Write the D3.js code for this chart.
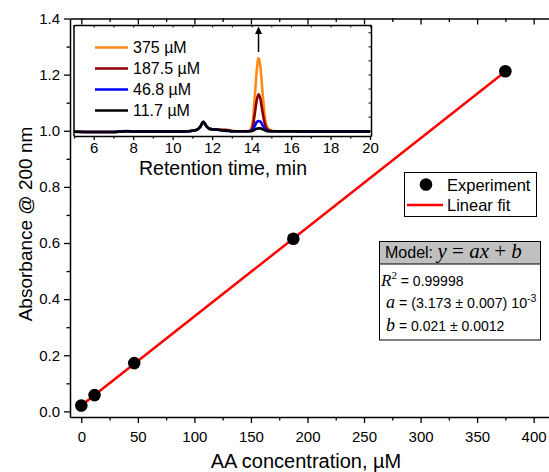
<!DOCTYPE html>
<html>
<head>
<meta charset="utf-8">
<script src="https://cdn.jsdelivr.net/npm/d3@7"></script>
<style>
  body { margin: 0; background: #fff; }
  svg { display: block; }
  text { font-family: "Liberation Sans", Arial, Helvetica, sans-serif; fill: #000; }
  .serif { font-family: "Liberation Serif", "Times New Roman", serif; font-style: italic; }
</style>
</head>
<body>
<script>
// Calibration: AA concentration (µM) vs absorbance at 200 nm
const concentration = [0, 11.7, 46.8, 187.5, 375];
const absorbance    = [0.021, 0.058, 0.172, 0.615, 1.212];
const fitSlope = 3.173e-3;
const fitIntercept = 0.021;

const xMajorTicks = [0, 50, 100, 150, 200, 250, 300, 350, 400];
const xMinorTicks = [25, 75, 125, 175, 225, 275, 325, 375];
const yMajorTicks = [0, 0.2, 0.4, 0.6, 0.8, 1.0, 1.2, 1.4];
const yMinorTicks = [0.1, 0.3, 0.5, 0.7, 0.9, 1.1, 1.3];

// Inset chromatograms (retention time, min)
const retentionTime = [5.0, 6.0, 7.0, 7.4, 7.7, 8.0, 9.0, 10.0, 10.8, 11.2, 11.4, 11.55, 11.7, 11.85, 12.0, 12.3, 12.6, 12.8, 13.0, 13.5, 13.9, 14.05, 14.15, 14.25, 14.35, 14.45, 14.55, 14.65, 14.75, 14.9, 15.1, 15.5, 16.0, 17.0, 18.0, 19.0, 20.0];
const trace375  = [0.996, 0.995, 0.995, 0.997, 0.998, 0.997, 0.997, 0.997, 0.998, 1.002, 1.014, 1.030, 1.017, 1.007, 1.005, 1.004, 1.004, 1.003, 0.999, 0.998, 0.999, 1.030, 1.110, 1.205, 1.258, 1.225, 1.140, 1.060, 1.020, 1.003, 0.999, 0.998, 0.998, 0.997, 0.997, 0.997, 0.997];
const trace1875 = [0.996, 0.995, 0.995, 0.997, 0.998, 0.997, 0.997, 0.997, 0.998, 1.002, 1.014, 1.030, 1.017, 1.007, 1.005, 1.003, 1.002, 1.001, 0.999, 0.998, 0.999, 1.012, 1.055, 1.105, 1.129, 1.112, 1.068, 1.030, 1.010, 1.001, 0.998, 0.998, 0.998, 0.997, 0.997, 0.997, 0.997];
const trace468  = [0.996, 0.995, 0.995, 0.998, 0.999, 0.997, 0.997, 0.997, 0.998, 1.002, 1.014, 1.031, 1.017, 1.007, 1.005, 1.003, 1.001, 1.000, 0.998, 0.998, 0.998, 1.003, 1.015, 1.030, 1.034, 1.032, 1.020, 1.008, 1.002, 0.998, 0.998, 0.998, 0.998, 0.997, 0.997, 0.997, 0.997];
const trace117  = [0.996, 0.995, 0.995, 0.997, 0.998, 0.997, 0.997, 0.997, 0.998, 1.002, 1.014, 1.032, 1.017, 1.007, 1.005, 1.003, 1.000, 0.999, 0.998, 0.998, 0.998, 0.999, 1.003, 1.007, 1.008, 1.008, 1.005, 1.002, 0.999, 0.998, 0.998, 0.998, 0.998, 0.997, 0.997, 0.997, 0.997];

const seriesLabels = ["375 \u00B5M", "187.5 \u00B5M", "46.8 \u00B5M", "11.7 \u00B5M"];
const seriesColors = ["#ff8a14", "#8b0000", "#0000ff", "#000000"];
const seriesValues = [trace375, trace1875, trace468, trace117];

const insetXMajor = [6, 8, 10, 12, 14, 16, 18, 20];
const insetXMinor = [5, 7, 9, 11, 13, 15, 17, 19];
const insetYTicks = [1.0, 1.05, 1.1, 1.15, 1.2, 1.25, 1.3, 1.35];

const W = 549, H = 472;
const svg = d3.select("body").append("svg").attr("width", W).attr("height", H);

// Main plot frame
const frame = { left: 70, right: 550.6, top: 18.5, bottom: 417 };
const x = d3.scaleLinear().domain([-10, 415]).range([frame.left, frame.right]);
const y = d3.scaleLinear().domain([-0.02, 1.4]).range([frame.bottom, frame.top]);

function styleAxis(g, fontSize) {
  g.select(".domain").attr("stroke", "#000").attr("stroke-width", 1.5);
  g.selectAll(".tick line").attr("stroke", "#000").attr("stroke-width", 1.3);
  g.selectAll(".tick text").attr("font-size", fontSize).attr("font-family", "Liberation Sans, Arial, sans-serif").attr("fill", "#000");
}

// bottom axis
const gB = svg.append("g").attr("transform", `translate(0,${frame.bottom})`)
  .call(d3.axisBottom(x).tickValues(xMajorTicks).tickSize(6).tickSizeOuter(0).tickPadding(8).tickFormat(d3.format("d")));
styleAxis(gB, 15);
const gBm = svg.append("g").attr("transform", `translate(0,${frame.bottom})`)
  .call(d3.axisBottom(x).tickValues(xMinorTicks).tickSize(3.5).tickSizeOuter(0).tickFormat(""));
styleAxis(gBm, 15);
gBm.select(".domain").remove();

// top axis (ticks inward, no labels)
const gT = svg.append("g").attr("transform", `translate(0,${frame.top})`)
  .call(d3.axisBottom(x).tickValues(xMajorTicks).tickSize(6).tickSizeOuter(0).tickFormat(""));
styleAxis(gT, 15);
const gTm = svg.append("g").attr("transform", `translate(0,${frame.top})`)
  .call(d3.axisBottom(x).tickValues(xMinorTicks).tickSize(3.5).tickSizeOuter(0).tickFormat(""));
styleAxis(gTm, 15);
gTm.select(".domain").remove();

// left axis
const gL = svg.append("g").attr("transform", `translate(${frame.left},0)`)
  .call(d3.axisLeft(y).tickValues(yMajorTicks).tickSize(6).tickSizeOuter(0).tickPadding(4).tickFormat(d3.format(".1f")));
styleAxis(gL, 15);
const gLm = svg.append("g").attr("transform", `translate(${frame.left},0)`)
  .call(d3.axisLeft(y).tickValues(yMinorTicks).tickSize(3.5).tickSizeOuter(0).tickFormat(""));
styleAxis(gLm, 15);
gLm.select(".domain").remove();

// Axis titles
svg.append("text").attr("x", 306).attr("y", 468).attr("text-anchor", "middle")
  .attr("font-size", 20).text("AA concentration, \u00B5M");
svg.append("text").attr("transform", "translate(32,224) rotate(-90)").attr("text-anchor", "middle")
  .attr("font-size", 19).text("Absorbance @ 200 nm");

// Linear fit
const fitX = d3.extent(concentration);
svg.append("line")
  .attr("x1", x(fitX[0])).attr("y1", y(fitSlope * fitX[0] + fitIntercept))
  .attr("x2", x(fitX[1])).attr("y2", y(fitSlope * fitX[1] + fitIntercept))
  .attr("stroke", "#ff0000").attr("stroke-width", 2.5);

// Experimental points
svg.append("g").selectAll("circle").data(concentration).join("circle")
  .attr("cx", d => x(d)).attr("cy", (d, i) => y(absorbance[i])).attr("r", 6.3).attr("fill", "#000");

// Legend
const lg = svg.append("g");
lg.append("rect").attr("x", 404.5).attr("y", 172.5).attr("width", 132).attr("height", 44)
  .attr("fill", "#fff").attr("stroke", "#000").attr("stroke-width", 1);
lg.append("circle").attr("cx", 426).attr("cy", 184.5).attr("r", 6.3).attr("fill", "#000");
lg.append("text").attr("x", 447).attr("y", 190.5).attr("font-size", 16.5).text("Experiment");
lg.append("line").attr("x1", 407).attr("x2", 443).attr("y1", 205).attr("y2", 205)
  .attr("stroke", "#ff0000").attr("stroke-width", 2.5);
lg.append("text").attr("x", 447).attr("y", 210.5).attr("font-size", 16.5).text("Linear fit");

// Model box
const mb = svg.append("g");
mb.append("rect").attr("x", 379.5).attr("y", 241.5).attr("width", 161).attr("height", 98.5)
  .attr("fill", "#fff").attr("stroke", "#000").attr("stroke-width", 1);
mb.append("rect").attr("x", 379.5).attr("y", 241.5).attr("width", 161).attr("height", 22.5)
  .attr("fill", "#c0c0c0").attr("stroke", "#000").attr("stroke-width", 1);
const hdr = mb.append("text").attr("x", 385).attr("y", 258);
hdr.append("tspan").attr("font-size", 16).text("Model: ");
hdr.append("tspan").attr("class", "serif").attr("font-size", 21).text("y");
hdr.append("tspan").attr("font-family", "Liberation Serif, serif").attr("font-size", 21).text(" = ");
hdr.append("tspan").attr("class", "serif").attr("font-size", 21).text("ax");
hdr.append("tspan").attr("font-family", "Liberation Serif, serif").attr("font-size", 21).text(" + ");
hdr.append("tspan").attr("class", "serif").attr("font-size", 21).text("b");

const r2 = mb.append("text").attr("x", 381).attr("y", 285.5);
r2.append("tspan").attr("class", "serif").attr("font-size", 17).text("R");
r2.append("tspan").attr("font-family", "Liberation Serif, serif").attr("font-size", 11).attr("dy", -7).text("2");
r2.append("tspan").attr("font-size", 14).attr("dy", 7).text(" = 0.99998");

const ra = mb.append("text").attr("x", 386).attr("y", 308);
ra.append("tspan").attr("class", "serif").attr("font-size", 18).text("a");
ra.append("tspan").attr("font-size", 14.2).text(" = (3.173 \u00B1 0.007) 10");
ra.append("tspan").attr("font-size", 10.5).attr("dy", -6).text("-3");

const rb = mb.append("text").attr("x", 386).attr("y", 330.5);
rb.append("tspan").attr("class", "serif").attr("font-size", 18).text("b");
rb.append("tspan").attr("font-size", 14).text(" = 0.021 \u00B1 0.0012");

// Inset: chromatograms
const ins = { left: 74, right: 371, top: 25, bottom: 136 };
const xi = d3.scaleLinear().domain([5, 20.05]).range([ins.left, ins.right]);
const yi = d3.scaleLinear().domain([0.981, 1.376]).range([ins.bottom, ins.top]);

const ig = svg.append("g");
ig.append("rect").attr("x", ins.left).attr("y", ins.top)
  .attr("width", ins.right - ins.left).attr("height", ins.bottom - ins.top)
  .attr("fill", "#fff");

const line = d3.line().x(d => xi(d[0])).y(d => yi(d[1])).curve(d3.curveMonotoneX);
seriesValues.forEach((vals, k) => {
  ig.append("path")
    .attr("d", line(retentionTime.map((t, i) => [t, vals[i]])))
    .attr("fill", "none").attr("stroke", seriesColors[k]).attr("stroke-width", 2.6)
    .attr("stroke-linejoin", "round");
});

// Arrow over the AA peak
const peakT = 14.35;
ig.append("line").attr("x1", xi(peakT)).attr("x2", xi(peakT)).attr("y1", 52).attr("y2", 33)
  .attr("stroke", "#000").attr("stroke-width", 1.5);
ig.append("path")
  .attr("d", `M${xi(peakT) - 3.5},34 L${xi(peakT)},26.5 L${xi(peakT) + 3.5},34 Z`)
  .attr("fill", "#000");

// Inset axes
const giB = ig.append("g").attr("transform", `translate(0,${ins.bottom})`)
  .call(d3.axisBottom(xi).tickValues(insetXMajor).tickSize(4).tickSizeOuter(0).tickPadding(2.5).tickFormat(d3.format("d")));
styleAxis(giB, 15);
const giBm = ig.append("g").attr("transform", `translate(0,${ins.bottom})`)
  .call(d3.axisBottom(xi).tickValues(insetXMinor).tickSize(2.5).tickSizeOuter(0).tickFormat(""));
styleAxis(giBm, 15);
giBm.select(".domain").remove();

const giT = ig.append("g").attr("transform", `translate(0,${ins.top})`)
  .call(d3.axisBottom(xi).tickValues(insetXMajor.concat(insetXMinor)).tickSize(2.5).tickSizeOuter(0).tickFormat(""));
styleAxis(giT, 15);
giT.selectAll(".tick line").attr("stroke-width", 1);

const giR = ig.append("g").attr("transform", `translate(${ins.right},0)`)
  .call(d3.axisLeft(yi).tickValues(insetYTicks).tickSize(2.5).tickSizeOuter(0).tickFormat(""));
styleAxis(giR, 15);
giR.selectAll(".tick line").attr("stroke-width", 1);

ig.append("line").attr("x1", ins.left).attr("x2", ins.left).attr("y1", ins.top).attr("y2", ins.bottom)
  .attr("stroke", "#000").attr("stroke-width", 1.5);

ig.append("text").attr("x", 223).attr("y", 175).attr("text-anchor", "middle")
  .attr("font-size", 19.5).text("Retention time, min");

// Inset legend
const legRows = [47.5, 68.5, 89.5, 110.5];
seriesLabels.forEach((lab, k) => {
  ig.append("line").attr("x1", 95).attr("x2", 128).attr("y1", legRows[k]).attr("y2", legRows[k])
    .attr("stroke", seriesColors[k]).attr("stroke-width", 2.6);
  ig.append("text").attr("x", 133).attr("y", legRows[k] + 5.5).attr("font-size", 16).text(lab);
});
</script>
</body>
</html>
